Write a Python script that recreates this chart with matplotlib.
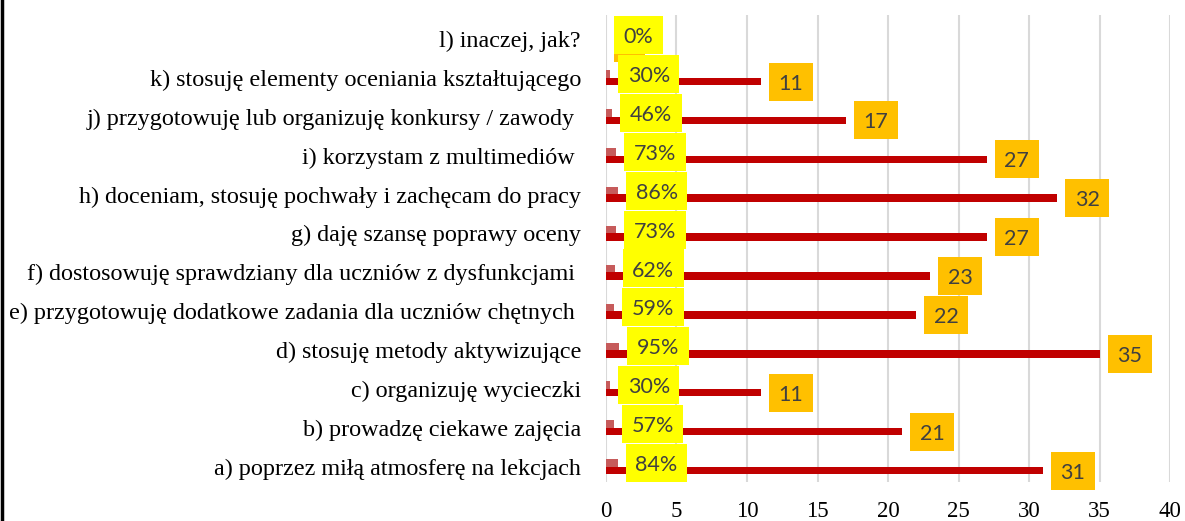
import matplotlib
matplotlib.use("Agg")
import matplotlib.pyplot as plt
from matplotlib.patches import Rectangle
import numpy as np

categories = [
    "a) poprzez miłą atmosferę na lekcjach",
    "b) prowadzę ciekawe zajęcia",
    "c) organizuję wycieczki",
    "d) stosuję metody aktywizujące",
    "e) przygotowuję dodatkowe zadania dla uczniów chętnych ",
    "f) dostosowuję sprawdziany dla uczniów z dysfunkcjami ",
    "g) daję szansę poprawy oceny",
    "h) doceniam, stosuję pochwały i zachęcam do pracy",
    "i) korzystam z multimediów ",
    "j) przygotowuję lub organizuję konkursy / zawody ",
    "k) stosuję elementy oceniania kształtującego",
    "l) inaczej, jak?",
]
counts = [31, 21, 11, 35, 22, 23, 27, 32, 27, 17, 11, 0]
percents = [0.84, 0.57, 0.30, 0.95, 0.59, 0.62, 0.73, 0.86, 0.73, 0.46, 0.30, 0.0]
xticks = [0, 5, 10, 15, 20, 25, 30, 35, 40]

W, H = 1185, 521
fig = plt.figure(figsize=(W / 100, H / 100), dpi=100)
ax = fig.add_axes([606 / W, 1 - 482 / H, (1170 - 606) / W, (482 - 15) / H])

y = np.arange(len(categories))
bh = 0.193
ax.barh(y - bh / 2, counts, height=bh, color="#C00000", zorder=2)
ax.barh(y + bh / 2, percents, height=bh, color="#C65B5B", zorder=2)

ax.set_xlim(0, 40)
ax.set_ylim(-0.392, 11.613)
ax.set_xticks(xticks)
ax.set_xticklabels([str(t) for t in xticks], fontfamily="Liberation Serif", fontsize=16.5)
ax.set_yticks(y)
ax.set_yticklabels(categories, fontfamily="Liberation Serif", fontsize=17.4)
ax.tick_params(axis="both", length=0)
ax.tick_params(axis="y", pad=18)
ax.tick_params(axis="x", pad=14)
ax.grid(axis="x", color="#D9D9D9", linewidth=1.5, zorder=0)
ax.set_axisbelow(True)
for s in ax.spines.values():
    s.set_visible(False)

px = 0.72
hpad = 9.5
box_h = 38
gap = 8
lab_font = dict(fontfamily="Lato", fontsize=15.5, color="#404040")

labels = []
for yi, c in zip(y, counts):
    t = ax.annotate(str(c), xy=(c, yi - bh / 2), xytext=((gap + hpad) * px, -1.5),
                    textcoords="offset points", ha="left", va="center", zorder=5,
                    **lab_font)
    labels.append((t, "#FFC000", 4.5))
for yi, p in zip(y, percents):
    t = ax.annotate(f"{round(p * 100)}%", xy=(p, yi + bh / 2), xytext=((gap + hpad) * px, -1.5),
                    textcoords="offset points", ha="left", va="center", zorder=7,
                    **lab_font)
    labels.append((t, "#FFFF00", 6.5))

fig.canvas.draw()
r = fig.canvas.get_renderer()
for t, col, z in labels:
    bb = t.get_window_extent(r)
    ax_pt = ax.transData.transform(t.xy)
    x0 = bb.x0 - hpad
    wdt = bb.width + 2 * hpad
    yc = ax_pt[1]
    rect = Rectangle((x0 / W, (yc - box_h / 2) / H), wdt / W, box_h / H,
                     transform=fig.transFigure, facecolor=col, edgecolor="none",
                     zorder=z, clip_on=False)
    ax.add_artist(rect)

fig.add_artist(plt.Line2D([1.5 / W, 1.5 / W], [0, 1], color="black", linewidth=2.5,
                          transform=fig.transFigure))

fig.savefig("out.png", dpi=100)
